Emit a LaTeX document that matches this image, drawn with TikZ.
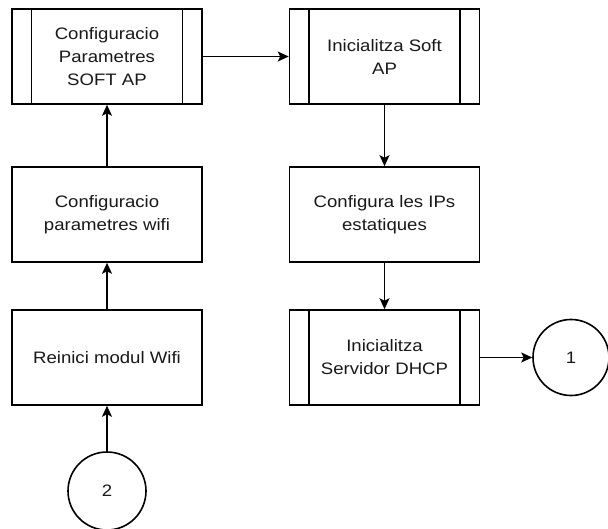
\documentclass[tikz,border=0pt]{standalone}
\usepackage{fontspec}
\setmainfont[FakeStretch=1.12]{Liberation Sans}
\usetikzlibrary{arrows.meta}
\begin{document}
\begin{tikzpicture}[x=1pt,y=-1pt,
  every node/.style={font=\fontsize{16.6pt}{23pt}\selectfont, text=black!90},
  box/.style={draw=black, line width=1.6pt, minimum width=190pt, minimum height=95pt,
    inner sep=0pt, align=center, fill=white},
  subproc/.style={box, path picture={
      \draw[line width=1.6pt] ([xshift=19.5pt]path picture bounding box.north west) -- ([xshift=19.5pt]path picture bounding box.south west);
      \draw[line width=1.6pt] ([xshift=-19.5pt]path picture bounding box.north east) -- ([xshift=-19.5pt]path picture bounding box.south east);}},
  conn/.style={draw=black, circle, line width=1.6pt, inner sep=0pt, fill=white},
  flow/.style={line width=1.6pt, -{Stealth[length=11pt,width=10pt,inset=2.5pt]}}]
\useasboundingbox (0,0) rectangle (608,529);

\node[subproc] (cfgap) at (107,56.5) {Configuracio\\Parametres\\SOFT AP};
\node[subproc] (initap) at (384.5,56.5) {Inicialitza Soft\\AP};
\node[box] (cfgwifi) at (107,214.5) {Configuracio\\parametres wifi};
\node[box] (ips) at (384.5,214.5) {Configura les IPs\\estatiques};
\node[box] (reset) at (107,357.5) {Reinici modul Wifi};
\node[subproc] (dhcp) at (384.5,357.5) {Inicialitza\\Servidor DHCP};
\node[conn, minimum size=76pt] (one) at (571,357.5) {1};
\node[conn, minimum size=78pt] (two) at (107,491) {2};

\draw[flow] (two) -- (reset);
\draw[flow] (reset) -- (cfgwifi);
\draw[flow] (cfgwifi) -- (cfgap);
\draw[flow] (cfgap) -- (initap);
\draw[flow] (initap) -- (ips);
\draw[flow] (ips) -- (dhcp);
\draw[flow] (dhcp) -- (one);
\end{tikzpicture}
\end{document}
